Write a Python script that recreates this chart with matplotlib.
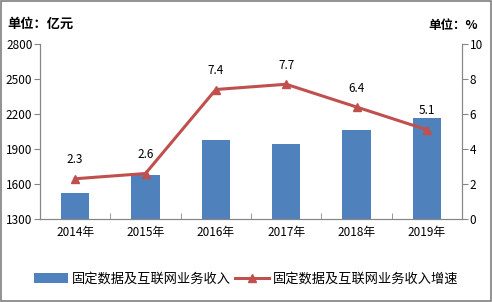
import matplotlib.pyplot as plt
import numpy as np
from matplotlib.patches import Rectangle

plt.rcParams['font.family'] = ['Noto Sans CJK SC', 'DejaVu Sans']

years = ['2014年', '2015年', '2016年', '2017年', '2018年', '2019年']
revenue = [1523, 1677, 1977, 1945, 2065, 2168]
growth = [2.3, 2.6, 7.4, 7.7, 6.4, 5.1]
growth_labels = ['2.3', '2.6', '7.4', '7.7', '6.4', '5.1']

bar_color = '#4F81BD'
line_color = '#C0504D'
axis_color = '#868686'

fig = plt.figure(figsize=(4.92, 3.02), dpi=100)
ax = fig.add_axes([40 / 492, 1 - 219 / 302, 422 / 492, 175 / 302])
ax2 = ax.twinx()

x = np.arange(len(years))
bars = ax.bar(x, revenue, width=0.4, color=bar_color, zorder=2)
ax.set_ylim(1300, 2800)
ax.set_yticks(np.arange(1300, 2801, 300))
ax.set_xlim(-0.5, len(years) - 0.5)
ax.set_xticks(x)
ax.set_xticklabels(years, fontsize=8.5)
ax.set_xticks(np.arange(-0.5, len(years), 1), minor=True)
ax.tick_params(axis='x', which='major', length=0, pad=5)
ax.tick_params(axis='x', which='minor', length=4, direction='in', color=axis_color)
ax.tick_params(axis='y', labelsize=8.5, length=4, color=axis_color, pad=1.5)

line, = ax2.plot(x, growth, color=line_color, lw=2.2, marker='^', ms=6, zorder=3)
ax2.set_ylim(0, 10)
ax2.set_yticks(np.arange(0, 11, 2))
ax2.tick_params(axis='y', labelsize=8.5, length=4, color=axis_color, pad=1.5)
for xi, yi, t in zip(x, growth, growth_labels):
    ax2.annotate(t, (xi, yi), xytext=(0, 9), textcoords='offset points',
                 ha='center', va='bottom', fontsize=8.5)

for a in (ax, ax2):
    a.spines['top'].set_visible(False)
    for s in ('left', 'right', 'bottom'):
        a.spines[s].set_color(axis_color)

fig.text(7 / 492, 1 - 24 / 302, '单位：亿元', fontsize=9.5, fontweight='bold',
         va='center', ha='left')
fig.text(478 / 492, 1 - 25 / 302, '单位：%', fontsize=9, fontweight='bold',
         va='center', ha='right')

fig.legend([bars, line], ['固定数据及互联网业务收入', '固定数据及互联网业务收入增速'],
           loc='center', bbox_to_anchor=(0.5, 1 - 279 / 302), ncol=2,
           frameon=False, fontsize=9.5, handlelength=2.6, handletextpad=0.3,
           columnspacing=0.3)

fig.patches.append(Rectangle((0.002, 0.003), 0.995, 0.994, transform=fig.transFigure,
                             fill=False, edgecolor='#7F7F7F', lw=1.2))

fig.savefig('out.png', dpi=100)
